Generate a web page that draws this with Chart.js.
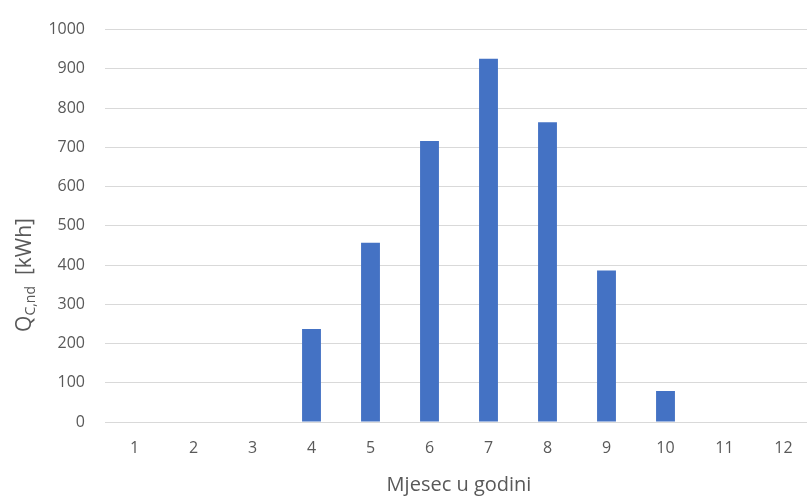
<!DOCTYPE html>
<html>
<head>
<meta charset="utf-8">
<script src="https://cdn.jsdelivr.net/npm/chart.js@4"></script>
<style>
    body { margin: 0; overflow: hidden; background: #fff; }
</style>
</head>
<body>
<canvas id="grafikon" width="815" height="499"></canvas>
<script>
// Podaci s grafa
const mjeseci = ['1', '2', '3', '4', '5', '6', '7', '8', '9', '10', '11', '12'];
const potrebnaEnergija = [0, 0, 0, 237, 457, 716, 926, 764, 386, 79, 0, 0];
const yTickovi = [0, 100, 200, 300, 400, 500, 600, 700, 800, 900, 1000];

const sivaBoja = '#595959';
const fontFamilija = '"Open Sans", "Noto Sans", sans-serif';

// Naslovi osi crtamo sami (zbog indeksa u oznaci)
const nasloviOsi = {
    id: 'nasloviOsi',
    afterDraw(chart) {
        const ctx = chart.ctx;
        ctx.save();
        ctx.fillStyle = sivaBoja;

        // x os
        ctx.font = '20px ' + fontFamilija;
        ctx.textAlign = 'center';
        ctx.textBaseline = 'middle';
        const sredinaX = (chart.chartArea.left + chart.chartArea.right) / 2;
        ctx.fillText('Mjesec u godini', sredinaX, 485);

        // y os, okrenuto
        ctx.translate(24, 275);
        ctx.rotate(-Math.PI / 2);
        const velika = '21px ' + fontFamilija;
        const mala = '14px ' + fontFamilija;
        ctx.font = velika;
        const wQ = ctx.measureText('Q').width;
        const wOstalo = ctx.measureText('  [kWh]').width;
        ctx.font = mala;
        const wSub = ctx.measureText('C,nd').width;
        let x = -(wQ + wSub + wOstalo) / 2;
        ctx.textAlign = 'left';
        ctx.textBaseline = 'alphabetic';
        ctx.font = velika;
        ctx.fillText('Q', x, 7);
        x += wQ;
        ctx.font = mala;
        ctx.fillText('C,nd', x, 11);
        x += wSub;
        ctx.font = velika;
        ctx.fillText('  [kWh]', x, 7);
        ctx.restore();
    }
};

const ctx = document.getElementById('grafikon').getContext('2d');
const grafikon = new Chart(ctx, {
    type: 'bar',
    data: {
        labels: mjeseci,
        datasets: [{
            data: potrebnaEnergija,
            backgroundColor: '#4472C4',
            borderWidth: 0,
            categoryPercentage: 1,
            barPercentage: 0.32
        }]
    },
    options: {
        responsive: false,
        animation: false,
        layout: {
            padding: { top: 26, right: 2, left: 0, bottom: 0 }
        },
        plugins: {
            legend: { display: false },
            tooltip: { enabled: false }
        },
        scales: {
            x: {
                grid: { display: false, drawTicks: false },
                border: { display: false },
                ticks: {
                    color: sivaBoja,
                    padding: 17,
                    font: { family: fontFamilija, size: 16 }
                },
                afterFit(scale) { scale.height = 77; }
            },
            y: {
                min: 0,
                max: 1000,
                afterBuildTicks(scale) {
                    scale.ticks = yTickovi.map(v => ({ value: v }));
                },
                grid: { color: '#d9d9d9', lineWidth: 1, drawTicks: false },
                border: { display: false },
                ticks: {
                    color: sivaBoja,
                    padding: 20,
                    font: { family: fontFamilija, size: 16 },
                    callback: function(value) {
                        return String(value);
                    }
                },
                afterFit(scale) { scale.width = 105; }
            }
        }
    },
    plugins: [nasloviOsi]
});
</script>
</body>
</html>
